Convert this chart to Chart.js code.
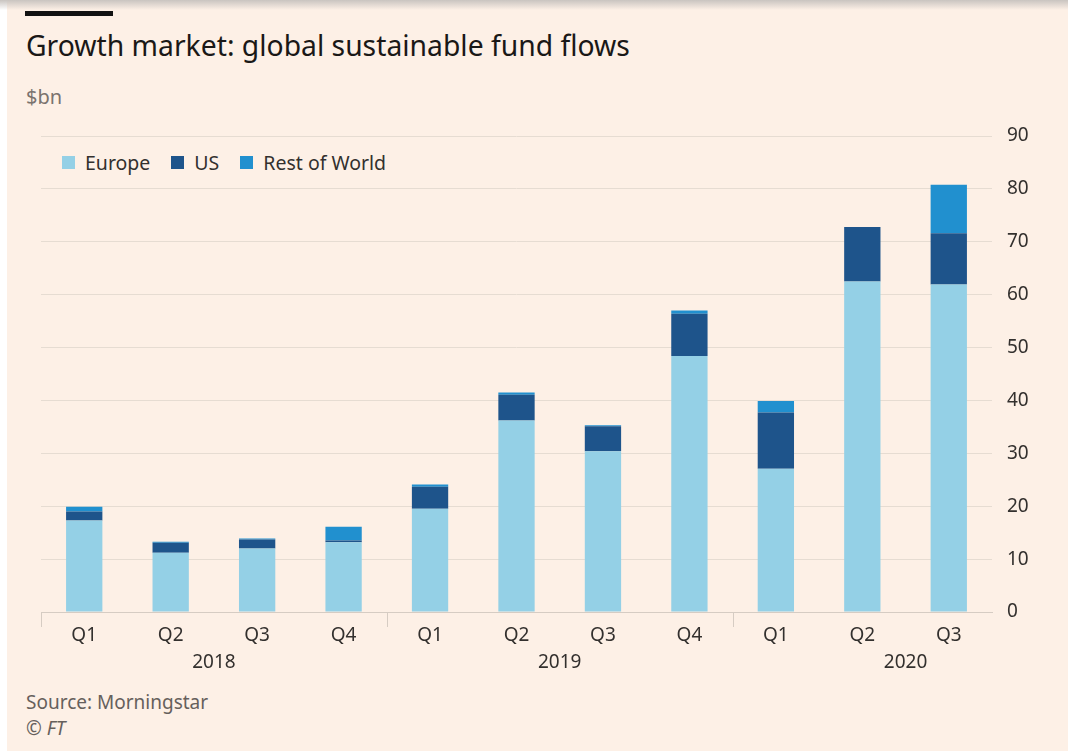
<!DOCTYPE html>
<html>
<head>
<meta charset="utf-8">
<script src="https://cdn.jsdelivr.net/npm/chart.js@4/dist/chart.umd.min.js"></script>
<style>
  html, body { margin: 0; padding: 0; background: #fff; }
  body { width: 1068px; height: 751px; position: relative; overflow: hidden; font-family: 'Noto Sans', sans-serif; }
  .paper { position: absolute; left: 7px; top: 0; right: 0; bottom: 0; background: #fdf0e6; }
  .shade { position: absolute; left: 0; top: 0; right: 0; height: 10px; background: linear-gradient(#c9c4c0, rgba(253,240,230,0)); }
  .bar { position: absolute; left: 25px; top: 11px; width: 88px; height: 5px; background: #121212; }
  .title { position: absolute; left: 26px; top: 26px; font-size: 28.3px; color: #1a1817; white-space: nowrap; }
  .unit { position: absolute; left: 26px; top: 83px; font-size: 20px; color: #7a736e; }
  .legend { position: absolute; top: 149px; left: 62px; font-size: 19.5px; color: #33302e; display: flex; }
  .legend span.item { display: flex; align-items: center; margin-right: 21px; }
  .legend i { display: inline-block; width: 13px; height: 13px; margin-right: 10px; }
  .source { position: absolute; left: 26px; top: 689px; font-size: 19px; color: #66605c; line-height: 26px; }
  canvas { position: absolute; left: 0; top: 0; }
</style>
</head>
<body>
<div class="paper"></div>
<div class="shade"></div>
<div class="bar"></div>
<div class="title">Growth market: global sustainable fund flows</div>
<div class="unit">$bn</div>
<div class="legend" id="legend"></div>
<div class="source">Source: Morningstar<br><i>© FT</i></div>
<canvas id="chart" width="1068" height="751"></canvas>
<script>
// quarters along the x axis, grouped by year
const quarters = ['Q1', 'Q2', 'Q3', 'Q4', 'Q1', 'Q2', 'Q3', 'Q4', 'Q1', 'Q2', 'Q3'];
const years = ['2018', '2019', '2020'];

// net flows, $bn
const europe = [17.3, 11.2, 12.0, 13.2, 19.5, 36.2, 30.4, 48.4, 27.1, 62.5, 61.9];
const us = [1.7, 1.9, 1.7, 0.3, 4.2, 4.9, 4.7, 8.0, 10.6, 10.3, 9.7];
const restOfWorld = [0.9, 0.2, 0.2, 2.6, 0.4, 0.4, 0.2, 0.6, 2.2, -0.3, 9.2];

const yTicks = [0, 10, 20, 30, 40, 50, 60, 70, 80, 90];

const series = [
  { label: 'Europe', data: europe, color: '#94d0e6' },
  { label: 'US', data: us, color: '#1e548b' },
  { label: 'Rest of World', data: restOfWorld, color: '#2190cf' },
];

// html legend
const legend = document.getElementById('legend');
series.forEach(s => {
  const item = document.createElement('span');
  item.className = 'item';
  item.innerHTML = '<i style="background:' + s.color + '"></i>' + s.label;
  legend.appendChild(item);
});

// year labels under the quarters + separator ticks between years
const yearAxis = {
  id: 'yearAxis',
  afterDraw(chart) {
    const ctx = chart.ctx;
    const x = chart.scales.x;
    const bottom = chart.chartArea.bottom;
    const mid = (a, b) => (x.getPixelForValue(a) + x.getPixelForValue(b)) / 2;
    ctx.save();
    ctx.strokeStyle = '#d6ccc3';
    ctx.lineWidth = 1;
    [0, 4, 8].forEach(i => {
      const px = Math.round(i === 0 ? chart.chartArea.left : mid(i - 1, i)) + 0.5;
      ctx.beginPath();
      ctx.moveTo(px, bottom);
      ctx.lineTo(px, bottom + 15);
      ctx.stroke();
    });
    ctx.fillStyle = '#33302e';
    ctx.font = '19px "Noto Sans"';
    ctx.textAlign = 'center';
    ctx.textBaseline = 'middle';
    years.forEach((y, k) => {
      ctx.fillText(y, mid(k * 4 + 1, k * 4 + 2), bottom + 51);
    });
    ctx.restore();
  }
};

new Chart(document.getElementById('chart'), {
  type: 'bar',
  data: {
    labels: quarters,
    datasets: series.map(s => ({
      label: s.label,
      data: s.data,
      backgroundColor: s.color,
      barPercentage: 0.42,
      categoryPercentage: 1,
    })),
  },
  options: {
    responsive: false,
    animation: false,
    layout: { padding: { left: 41, top: 136, right: 0, bottom: 0 } },
    plugins: {
      legend: { display: false },
      tooltip: { enabled: false },
    },
    scales: {
      x: {
        stacked: true,
        grid: { display: false, drawTicks: false },
        border: { color: '#d6ccc3' },
        ticks: { color: '#33302e', font: { family: 'Noto Sans', size: 19 }, padding: 12, maxRotation: 0 },
        afterFit(scale) { scale.height = 139; },
      },
      y: {
        stacked: true,
        position: 'right',
        min: 0,
        max: 90,
        afterBuildTicks(scale) { scale.ticks = yTicks.map(v => ({ value: v })); },
        grid: { color: '#e6dcd2', drawTicks: false },
        border: { display: false },
        ticks: { color: '#33302e', font: { family: 'Noto Sans', size: 19 }, padding: 15 },
        afterFit(scale) { scale.width = 76; },
      },
    },
  },
  plugins: [yearAxis],
});
</script>
</body>
</html>
